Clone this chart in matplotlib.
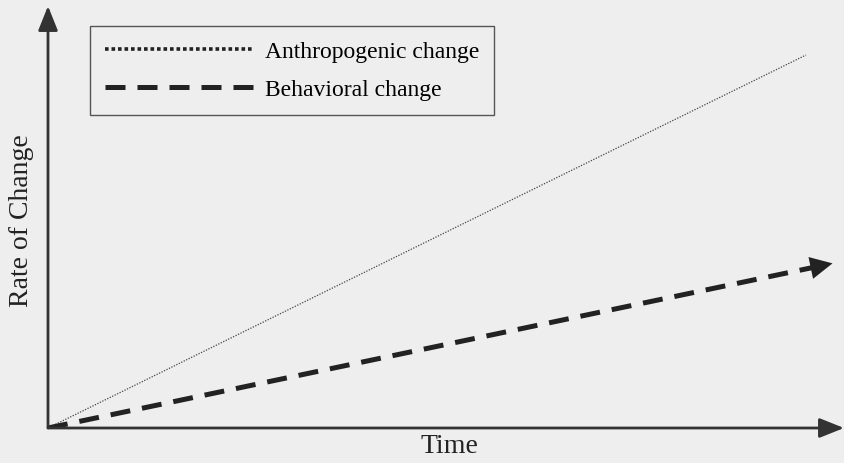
import numpy as np
import matplotlib.pyplot as plt
from matplotlib.lines import Line2D

time = [0.0, 1.0]
anthropogenic = [0.0, 1.0]
behavioral_time = [0.0, 1.02]
behavioral = [0.0, 0.435]
labels = ['Anthropogenic change', 'Behavioral change']

bg = '#eeeeee'
ink = '#222222'
plt.rcParams['font.family'] = ['Liberation Serif', 'DejaVu Serif']

fig = plt.figure(figsize=(8.44, 4.64), dpi=100, facecolor=bg)
# origin sits at pixel (48, 429), data 1 -> pixel (806, 56)
ax = fig.add_axes([48 / 844, 35 / 464, 796 / 844, 422 / 464])
ax.set_facecolor(bg)
ax.set_xlim(0, 796 / 758)
ax.set_ylim(0, 422 / 373)
for s in ax.spines.values():
    s.set_visible(False)
ax.set_xticks([])
ax.set_yticks([])

# axes with arrow heads
head = '-|>,head_length=0.75,head_width=0.3'
ax.annotate('', xy=(0, 1), xytext=(0, 0), xycoords='axes fraction',
            arrowprops=dict(arrowstyle=head, color='#333333', lw=2, mutation_scale=20,
                            shrinkA=0, shrinkB=0), annotation_clip=False)
ax.annotate('', xy=(1, 0), xytext=(0, 0), xycoords='axes fraction',
            arrowprops=dict(arrowstyle=head, color='#333333', lw=2, mutation_scale=20,
                            shrinkA=0, shrinkB=0), annotation_clip=False)

ax.plot(time, anthropogenic, color='#444444', lw=0.9, linestyle=(0, (1, 1.2)))
ax.plot(behavioral_time, behavioral, color=ink, lw=3.6,
        dashes=(4.0, 2.4), solid_capstyle='butt', dash_capstyle='butt')

# arrow head at end of the behavioral line
dx = behavioral_time[1] - behavioral_time[0]
dy = behavioral[1] - behavioral[0]
ax.annotate('', xy=(behavioral_time[1] + 0.015, behavioral[1] + 0.015 * dy / dx),
            xytext=(behavioral_time[1] - 0.01, behavioral[1] - 0.01 * dy / dx),
            arrowprops=dict(arrowstyle='-|>,head_length=0.8,head_width=0.4',
                            color=ink, lw=0, mutation_scale=20,
                            shrinkA=0, shrinkB=0))

handles = [Line2D([], [], color=ink, lw=2.6, linestyle=(0, (1, 0.8))),
           Line2D([], [], color=ink, lw=3.6, dashes=(4.0, 2.4))]
leg = ax.legend(handles, labels, loc='upper left',
                bbox_to_anchor=(42 / 796, (429 - 27) / 422), borderaxespad=0,
                fontsize=17, handlelength=6.3, handletextpad=0.5, borderpad=0.62,
                labelspacing=0.7, fancybox=False, framealpha=1,
                facecolor=bg, edgecolor='#555555')
leg.get_frame().set_linewidth(1.0)

fig.text(449 / 844, 1 - 447 / 464, 'Time', ha='center', va='center', fontsize=20, color=ink)
fig.text(22 / 844, 1 - 221 / 464, 'Rate of Change', ha='center', va='center',
         fontsize=20, rotation=90, color=ink)

fig.savefig('out.png', dpi=100, facecolor=bg)
